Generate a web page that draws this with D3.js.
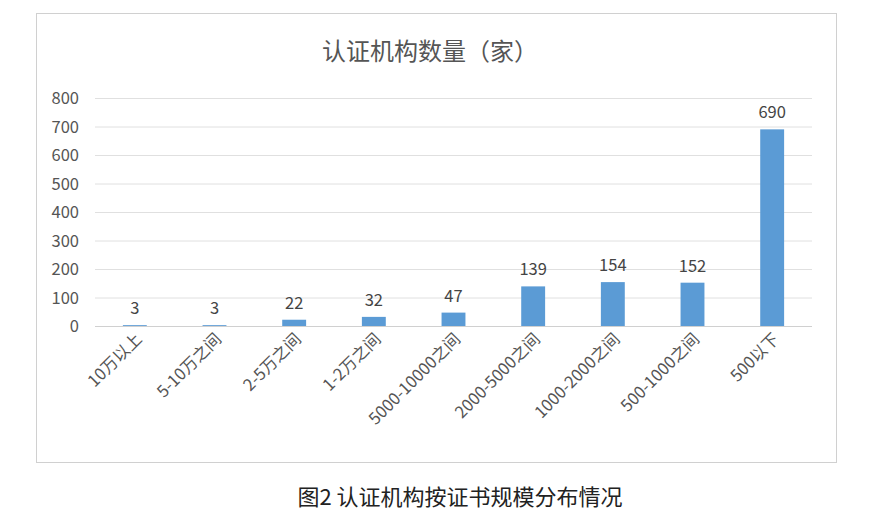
<!DOCTYPE html>
<html><head><meta charset="utf-8">
<script src="https://cdn.jsdelivr.net/npm/d3@7/dist/d3.min.js"></script>
<style>body{margin:0;background:#fff;font-family:"Noto Sans CJK SC","Noto Sans",sans-serif}</style>
</head><body><svg id="c" width="879" height="515"></svg>
<script>
const categories=["10万以上","5-10万之间","2-5万之间","1-2万之间","5000-10000之间","2000-5000之间","1000-2000之间","500-1000之间","500以下"];
const values=[3,3,22,32,47,139,154,152,690];
const yTicks=[0,100,200,300,400,500,600,700,800];
const svg=d3.select("#c");
svg.append("rect").attr("x",36.5).attr("y",13.5).attr("width",800).attr("height",449).attr("fill","#fff").attr("stroke","#d0d0d0");
const x=d3.scaleBand().domain(categories).range([95,812]).paddingInner(0.7).paddingOuter(0.35);
const y=d3.scaleLinear().domain([0,800]).range([326,98]);
const font="'Noto Sans CJK SC',sans-serif";
svg.append("g").selectAll("line").data(yTicks).join("line").attr("x1",95).attr("x2",812)
 .attr("y1",d=>y(d)+0.5).attr("y2",d=>y(d)+0.5).attr("stroke",d=>d===0?"#d0d0d0":"#e0e0e0");
svg.append("g").selectAll("text").data(yTicks).join("text").attr("x",79).attr("y",d=>y(d)+6)
 .attr("text-anchor","end").attr("font-size",16.5).attr("fill","#555").attr("font-family",font).text(d=>d);
svg.append("g").selectAll("rect").data(values).join("rect").attr("x",(d,i)=>x(categories[i])).attr("width",x.bandwidth())
 .attr("y",d=>y(d)).attr("height",d=>y(0)-y(d)).attr("fill","#5b9bd5");
svg.append("g").selectAll("text").data(values).join("text").attr("x",(d,i)=>x(categories[i])+x.bandwidth()/2)
 .attr("y",d=>y(d)-11).attr("text-anchor","middle").attr("font-size",16.5).attr("fill","#444").attr("font-family",font).text(d=>d);
svg.append("g").selectAll("text").data(categories).join("text")
 .attr("transform",(d)=>`translate(${x(d)+x.bandwidth()/2+8},${340}) rotate(-45)`)
 .attr("text-anchor","end").attr("font-size",16.5).attr("fill","#555").attr("font-family",font).text(d=>d);
svg.append("text").attr("x",430).attr("y",60).attr("text-anchor","middle").attr("font-size",24).attr("fill","#555").attr("font-family",font).text("认证机构数量（家）");
svg.append("text").attr("x",460).attr("y",505).attr("text-anchor","middle").attr("font-size",22).attr("fill","#222").attr("font-family",font).text("图2 认证机构按证书规模分布情况");
</script></body></html>
